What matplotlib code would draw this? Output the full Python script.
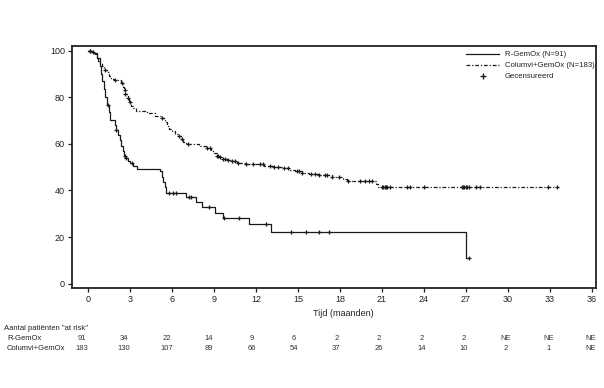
import matplotlib
matplotlib.use("Agg")
import matplotlib.pyplot as plt
import numpy as np

plt.rcParams['font.family'] = ['Liberation Sans', 'DejaVu Sans']

# R-GemOx Kaplan-Meier steps (time in months, survival % after the step)
rgemox_t = [0, 0.3, 0.6, 0.8, 0.9, 1.0, 1.1, 1.2, 1.35, 1.45, 1.55, 1.9, 2.0, 2.1, 2.25,
            2.35, 2.45, 2.55, 2.65, 2.8, 3.0, 3.2, 3.5, 5.1, 5.25, 5.35, 5.45, 5.55,
            7.0, 7.7, 8.15, 9.05, 9.65, 11.5, 13.05, 27.0, 27.2]
rgemox_s = [100, 98.9, 96.7, 93.4, 90.1, 86.8, 83.5, 80.2, 76.9, 73.6, 70.3, 68.1, 65.9, 63.7, 61.5,
            59.3, 57.1, 54.9, 53.8, 52.7, 51.6, 50.5, 49.4, 48.2, 46.0, 43.6, 41.3, 39.0,
            37.0, 35.0, 32.8, 30.5, 28.1, 25.6, 22.3, 11.2, 11.2]
rgemox_cens = [0.1, 1.4, 2.0, 2.6, 2.7, 3.1, 5.8, 6.05, 6.3, 7.2, 7.35, 8.6, 9.7, 10.8,
               12.7, 14.5, 15.6, 16.5, 17.2, 27.2]

# Columvi+GemOx Kaplan-Meier steps
colum_t = [0, 0.3, 0.45, 0.6, 0.7, 0.85, 1.0, 1.15, 1.35, 1.5, 1.65, 1.8, 2.3, 2.45, 2.55,
           2.65, 2.8, 2.9, 3.05, 3.2, 3.4, 4.2, 4.8, 5.3, 5.45, 5.6, 5.8, 6.0, 6.2, 6.4,
           6.6, 6.8, 7.0, 7.9, 8.4, 8.8, 9.0, 9.2, 9.4, 9.6, 9.9, 10.2, 10.6, 11.3, 12.6,
           13.3, 13.9, 14.4, 14.8, 15.3, 15.8, 16.4, 17.4, 18.2, 18.5, 20.55, 20.7, 33.5]
colum_s = [100, 99.5, 98.4, 97.3, 95.6, 94.5, 93.4, 91.8, 90.7, 89.1, 88.0, 87.4, 86.3, 84.6, 83.0,
           81.3, 79.7, 78.0, 76.4, 75.3, 74.2, 73.1, 72.0, 70.9, 69.2, 67.6, 66.5, 65.4, 64.3, 63.2,
           62.1, 61.0, 59.9, 59.3, 58.2, 57.1, 56.0, 54.9, 54.3, 53.7, 53.1, 52.5, 51.9, 51.3, 50.7,
           50.1, 49.5, 48.9, 48.3, 47.7, 47.1, 46.5, 45.8, 45.0, 44.2, 42.8, 41.4, 41.4]
colum_cens = [0.1, 0.3, 1.2, 1.9, 2.4, 2.6, 2.65, 2.8, 3.0, 5.3, 6.5, 6.7, 7.1, 8.5, 8.7,
              9.2, 9.3, 9.4, 9.6, 9.8, 10.0, 10.3, 10.5, 10.7, 11.3, 11.8, 12.3, 12.5, 13.0,
              13.3, 13.6, 14.0, 14.3, 14.9, 15.1, 15.3, 15.9, 16.2, 16.5, 16.9, 17.1, 17.4,
              17.9, 18.6, 19.4, 19.8, 20.1, 20.3, 21.0, 21.1, 21.2, 21.3, 21.4, 21.6, 22.8,
              23.0, 24.0, 26.7, 26.8, 26.9, 27.0, 27.1, 27.2, 27.7, 28.0, 32.9, 33.5]

x_ticks = list(range(0, 37, 3))
y_ticks = [0, 20, 40, 60, 80, 100]
risk_rgemox = ['91', '34', '22', '14', '9', '6', '2', '2', '2', '2', 'NE', 'NE', 'NE']
risk_colum = ['183', '130', '107', '89', '66', '54', '37', '26', '14', '10', '2', '1', 'NE']

def surv_at(ts, ss, x):
    idx = np.searchsorted(ts, x, side='right') - 1
    return np.array(ss)[idx]

fig = plt.figure(figsize=(6.04, 3.88), dpi=100)
ax = fig.add_axes([0.119, 0.2577, 0.868, 0.6243])
ax.set_xlim(-1.18, 36.33)
ax.set_ylim(-1.85, 102.1)

lc = '#1a1a1a'
ax.step(rgemox_t, rgemox_s, where='post', color=lc, lw=0.9, label='R-GemOx (N=91)')
ax.step(colum_t, colum_s, where='post', color=lc, lw=0.9,
        dashes=(3.0, 1.5, 1.0, 1.5), label='Columvi+GemOx (N=183)')
ax.plot(rgemox_cens, surv_at(rgemox_t, rgemox_s, rgemox_cens), ls='none', marker='+',
        ms=3.5, mew=0.9, color=lc)
ax.plot(colum_cens, surv_at(colum_t, colum_s, colum_cens), ls='none', marker='+',
        ms=3.5, mew=0.9, color=lc)
ax.plot([], [], ls='none', marker='+', ms=4.5, mew=1.0, color=lc, label='Gecensureerd')

for s in ax.spines.values():
    s.set_linewidth(1.3)
    s.set_color('#222222')

ax.set_xticks(x_ticks)
ax.set_yticks(y_ticks)
ax.tick_params(axis='both', direction='out', length=3, width=0.9, labelsize=6.5,
               colors='#222222', pad=2)

leg = ax.legend(loc='upper right', bbox_to_anchor=(1.0, 0.985), frameon=False, fontsize=5.6,
                handlelength=4.3, handletextpad=0.7, borderaxespad=0.1, labelspacing=0.45,
                borderpad=0.1)
for t in leg.get_texts():
    t.set_color('#222222')

fig.text(343 / 604, 1 - 314 / 388, 'Tijd (maanden)', ha='center', va='center', fontsize=6.5,
         color='#222222')

fig.text(4 / 604, 1 - 329 / 388, 'Aantal patiënten "at risk"', ha='left', va='center',
         fontsize=5.5, color='#222222')
fig.text(7 / 604, 1 - 339 / 388, 'R-GemOx', ha='left', va='center', fontsize=5.5, color='#222222')
fig.text(7 / 604, 1 - 349 / 388, 'Columvi+GemOx', ha='left', va='center', fontsize=5.5,
         color='#222222')

for i, t in enumerate(x_ticks):
    px = 81.7 + t * (591 - 81.7) / 36
    fig.text(px / 604, 1 - 339 / 388, risk_rgemox[i], ha='center', va='center', fontsize=5.5,
             color='#333333')
    fig.text(px / 604, 1 - 349 / 388, risk_colum[i], ha='center', va='center', fontsize=5.5,
             color='#333333')

fig.savefig('out.png', dpi=100)
